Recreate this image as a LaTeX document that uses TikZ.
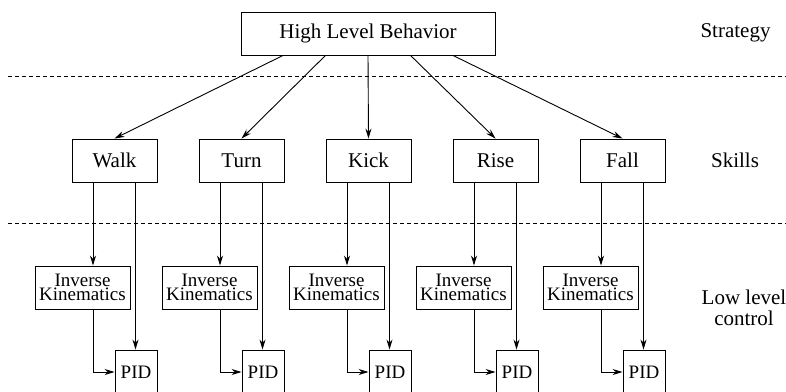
\documentclass[tikz,border=0pt]{standalone}
\usepackage{fontspec}
\setmainfont{Liberation Serif}
\newfontfamily\tms{Liberation Serif}
\usetikzlibrary{arrows.meta,calc}
\begin{document}
\begin{tikzpicture}[x=1pt,y=-1pt,
  box/.style={draw,line width=0.9pt,inner sep=0pt,align=center},
  big/.style={font=\tms\fontsize{21}{21}\selectfont},
  small/.style={font=\tms\fontsize{19}{14.5}\selectfont},
  conn/.style={line width=0.9pt},
  arr/.style={conn,-{Stealth[length=10pt,width=6pt]}},
  sep/.style={line width=0.8pt,dash pattern=on 4pt off 3pt}]
\useasboundingbox (0,0) rectangle (786,391);
\clip (0,0) rectangle (786,391);
\node[box,big,minimum width=254,minimum height=43] (hlb) at (368,33.5) {High Level Behavior};
\node[big] (lstrat) at (735.5,33) {Strategy};
\node[big] (lskill) at (735,160.5) {Skills};
\node[big,align=center] (llow) at (744,308) {Low level\\control};
\coordinate (d1a) at (8,76);
\coordinate (d1b) at (786,76);
\coordinate (d2a) at (8,223);
\coordinate (d2b) at (786,223);
\draw[sep] (d1a) -- (d1b);
\draw[sep] (d2a) -- (d2b);
\foreach \n [count=\i from 0] in {Walk,Turn,Kick,Rise,Fall}{
  \node[box,big,minimum width=85,minimum height=43] (s\i) at (114.5+127*\i,160.5) {\n};
  \node[box,small,minimum width=95,minimum height=43] (ik\i) at (82.5+127*\i,287.5) {Inverse\\Kinematics};
  \node[box,small,minimum width=42,minimum height=44] (pid\i) at (136+127*\i,372) {PID};
  \draw[arr] ([xshift=-42.5*(2-\i)]hlb.south) -- (s\i.north);
  \draw[arr] ([xshift=-21.5]s\i.south) -- ([xshift=-21.5]s\i.south |- ik\i.north);
  \draw[arr] ([xshift=-21.5]s\i.south |- ik\i.south) |- (pid\i.west);
  \draw[arr] ([xshift=21]s\i.south) -- ([xshift=21]s\i.south |- pid\i.north);
}
\end{tikzpicture}
\end{document}
